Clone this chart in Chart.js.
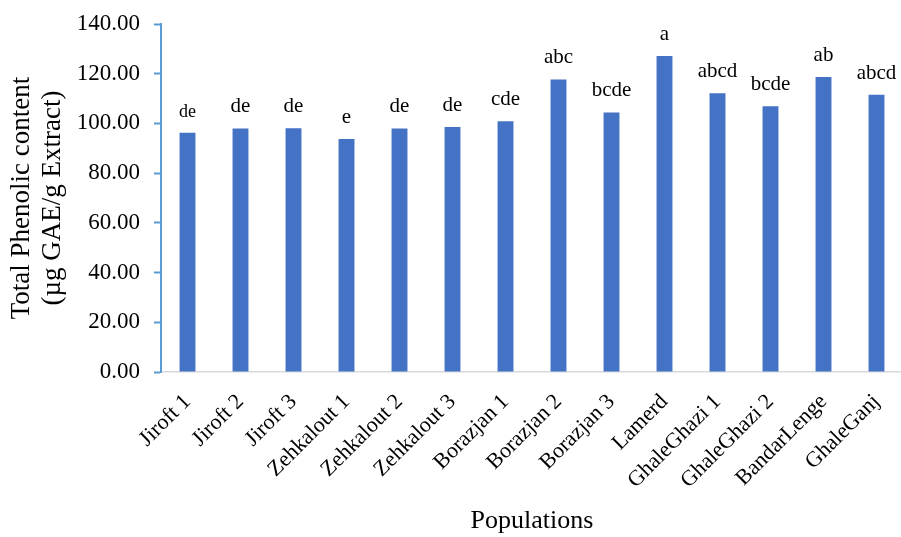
<!DOCTYPE html>
<html>
<head>
  <title>Total Phenolic content</title>
  <script src="https://cdn.jsdelivr.net/npm/chart.js"></script>
  <style>
    html, body { margin: 0; padding: 0; overflow: hidden; background: #fff; }
    canvas { display: block; }
  </style>
</head>
<body>
  <canvas id="tpcChart" width="903" height="537"></canvas>

  <script>
    // data
    const populations = ['Jiroft 1', 'Jiroft 2', 'Jiroft 3', 'Zehkalout 1', 'Zehkalout 2', 'Zehkalout 3',
      'Borazjan 1', 'Borazjan 2', 'Borazjan 3', 'Lamerd', 'GhaleGhazi 1', 'GhaleGhazi 2', 'BandarLenge', 'GhaleGanj'];
    const phenolic = [96.3, 98.0, 98.1, 93.7, 98.0, 98.6, 100.9, 117.7, 104.4, 127.1, 112.1, 106.9, 118.7, 111.5];
    const groups = ['de', 'de', 'de', 'e', 'de', 'de', 'cde', 'abc', 'bcde', 'a', 'abcd', 'bcde', 'ab', 'abcd'];
    const yMin = 0, yMax = 140, yStep = 20;

    const serif = '"Liberation Serif", "Times New Roman", serif';

    // letters above each bar
    const groupLetters = {
      id: 'groupLetters',
      afterDatasetsDraw(chart) {
        const ctx = chart.ctx;
        const meta = chart.getDatasetMeta(0);
        ctx.save();
        ctx.fillStyle = '#000';
        ctx.textAlign = 'center';
        ctx.textBaseline = 'alphabetic';
        meta.data.forEach((bar, i) => {
          ctx.font = (i === 0 ? '18px ' : '21px ') + serif;
          ctx.fillText(groups[i], bar.x, bar.y - 16);
        });
        ctx.restore();
      }
    };

    const ctx = document.getElementById('tpcChart').getContext('2d');
    new Chart(ctx, {
      type: 'bar',
      data: {
        labels: populations,
        datasets: [{
          data: phenolic,
          backgroundColor: '#4472C4',
          borderWidth: 0,
          barPercentage: 0.3,
          categoryPercentage: 1
        }]
      },
      options: {
        responsive: false,
        animation: false,
        layout: { padding: { top: 24, left: 0, right: 0, bottom: 0 } },
        plugins: {
          legend: { display: false },
          tooltip: { enabled: false }
        },
        scales: {
          x: {
            grid: { display: false, drawTicks: false },
            border: { display: true, color: '#D9D9D9', width: 1.5 },
            ticks: {
              color: '#000',
              font: { family: serif, size: 22 },
              minRotation: 45,
              maxRotation: 45,
              autoSkip: false,
              padding: 17
            },
            title: {
              display: true,
              text: 'Populations',
              color: '#000',
              font: { family: serif, size: 26 },
              padding: { top: 0, bottom: 0 }
            },
            afterFit(scale) {
              scale.height = 165;
              scale.paddingLeft = 0;
              scale.paddingRight = 0;
            }
          },
          y: {
            min: yMin,
            max: yMax,
            grid: { drawOnChartArea: false, drawTicks: true, tickLength: 7, tickColor: '#5B9BD5', tickWidth: 2 },
            border: { display: true, color: '#5B9BD5', width: 2 },
            ticks: {
              stepSize: yStep,
              color: '#000',
              padding: 14,
              font: { family: serif, size: 23 },
              callback: v => Number(v).toFixed(2)
            },
            title: {
              display: true,
              text: ['Total Phenolic content', '(µg GAE/g Extract)'],
              color: '#000',
              font: { family: serif, size: 27, lineHeight: 1.13 },
              padding: { top: 7, bottom: 0 }
            },
            afterFit(scale) {
              scale.width = 161;
              scale.paddingTop = 0;
              scale.paddingBottom = 0;
            }
          }
        }
      },
      plugins: [groupLetters]
    });
  </script>
</body>
</html>
